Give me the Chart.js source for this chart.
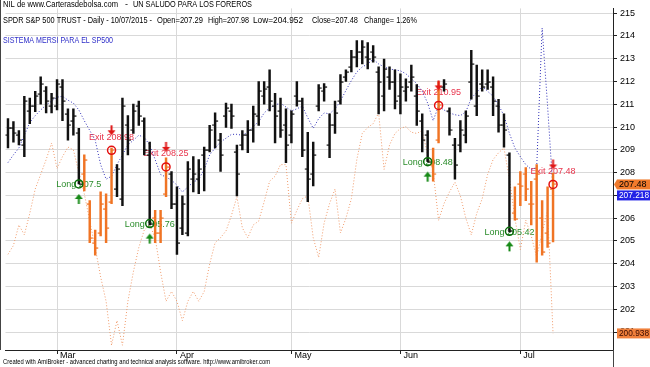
<!DOCTYPE html>
<html>
<head>
<meta charset="utf-8">
<script src="https://cdn.jsdelivr.net/npm/chart.js@4.4.0/dist/chart.umd.min.js"></script>
<style>
  html, body { margin: 0; padding: 0; background: #fff; }
  #wrap { width: 650px; height: 367px; position: relative; }
</style>
</head>
<body>
<div id="wrap"><canvas id="chart" width="650" height="367"></canvas></div>
<script>
// SPY daily bars, 17/02/2015 - 10/07/2015
const dates = [
  "2015-02-17","2015-02-18","2015-02-19","2015-02-20","2015-02-23","2015-02-24","2015-02-25","2015-02-26","2015-02-27",
  "2015-03-02","2015-03-03","2015-03-04","2015-03-05","2015-03-06","2015-03-09","2015-03-10","2015-03-11","2015-03-12","2015-03-13",
  "2015-03-16","2015-03-17","2015-03-18","2015-03-19","2015-03-20","2015-03-23","2015-03-24","2015-03-25","2015-03-26","2015-03-27",
  "2015-03-30","2015-03-31",
  "2015-04-01","2015-04-02","2015-04-06","2015-04-07","2015-04-08","2015-04-09","2015-04-10","2015-04-13","2015-04-14","2015-04-15",
  "2015-04-16","2015-04-17","2015-04-20","2015-04-21","2015-04-22","2015-04-23","2015-04-24","2015-04-27","2015-04-28","2015-04-29",
  "2015-04-30",
  "2015-05-01","2015-05-04","2015-05-05","2015-05-06","2015-05-07","2015-05-08","2015-05-11","2015-05-12","2015-05-13","2015-05-14",
  "2015-05-15","2015-05-18","2015-05-19","2015-05-20","2015-05-21","2015-05-22","2015-05-26","2015-05-27","2015-05-28","2015-05-29",
  "2015-06-01","2015-06-02","2015-06-03","2015-06-04","2015-06-05","2015-06-08","2015-06-09","2015-06-10","2015-06-11","2015-06-12",
  "2015-06-15","2015-06-16","2015-06-17","2015-06-18","2015-06-19","2015-06-22","2015-06-23","2015-06-24","2015-06-25","2015-06-26",
  "2015-06-29","2015-06-30",
  "2015-07-01","2015-07-02","2015-07-06","2015-07-07","2015-07-08","2015-07-09","2015-07-10"
];

const open = [
  209.64, 209.98, 209.64, 209.21, 210.71, 210.92, 211.44, 211.57, 210.92, 210.92,
  211.78, 210.58, 210.28, 209.72, 207.92, 206.64, 204.92, 205.35, 206.42, 206.72,
  207.28, 206.85, 210.07, 209.85, 210.92, 210.28, 208.78, 206.00, 205.35, 207.07,
  207.92, 206.64, 205.57, 205.35, 207.71, 207.71, 208.78, 209.00, 210.07, 209.42,
  210.50, 210.71, 208.91, 209.21, 209.64, 209.85, 210.50, 211.35, 211.78, 210.92,
  210.71, 210.07, 209.64, 211.35, 211.14, 208.14, 207.92, 210.92, 211.57, 209.21,
  210.07, 211.14, 212.21, 212.64, 213.07, 213.28, 213.07, 213.28, 212.42, 211.35,
  212.21, 212.00, 211.35, 211.57, 212.00, 211.35, 210.28, 209.64, 208.35, 209.42,
  211.78, 210.71, 209.21, 209.21, 209.64, 212.00, 210.92, 211.91, 211.87, 211.78,
  210.92, 210.07, 208.78, 206.21, 207.50, 207.92, 206.64, 207.71, 206.00, 205.35,
  207.29
];
const high = [
  210.37, 210.24, 209.85, 211.35, 211.27, 211.57, 212.21, 211.78, 211.48, 212.08,
  212.08, 210.80, 210.80, 209.94, 208.78, 206.77, 205.48, 207.15, 207.07, 209.08,
  208.35, 211.27, 210.50, 211.01, 211.14, 210.41, 209.34, 206.34, 206.34, 208.65,
  208.05, 207.37, 206.98, 208.48, 208.70, 208.57, 209.12, 210.07, 210.62, 209.72,
  211.05, 211.01, 209.21, 209.85, 210.28, 210.92, 212.00, 212.00, 212.51, 211.48,
  211.27, 210.80, 210.71, 212.00, 211.27, 209.77, 209.34, 211.87, 211.91, 210.58,
  211.14, 212.30, 212.51, 213.37, 213.80, 213.80, 213.71, 213.58, 212.64, 212.98,
  212.64, 212.51, 212.34, 212.12, 212.72, 211.87, 210.58, 209.85, 209.08, 212.00,
  212.08, 210.84, 209.51, 210.28, 210.71, 213.37, 212.72, 212.51, 212.51, 212.21,
  211.22, 210.58, 208.87, 207.37, 208.05, 208.22, 207.62, 208.35, 206.77, 207.37,
  207.98
];
const low = [
  209.08, 209.34, 209.21, 208.70, 210.15, 210.67, 211.01, 210.62, 210.62, 210.75,
  210.28, 209.42, 209.64, 207.50, 207.20, 204.92, 204.37, 205.22, 204.92, 206.64,
  206.94, 206.55, 208.78, 209.72, 210.07, 208.78, 205.70, 204.92, 204.92, 206.94,
  206.42, 204.41, 205.27, 205.22, 207.15, 207.07, 207.20, 208.91, 209.08, 208.05,
  209.98, 209.94, 206.98, 209.00, 208.87, 209.34, 210.07, 211.01, 210.71, 209.30,
  209.55, 208.44, 209.30, 210.92, 208.70, 206.72, 207.41, 210.71, 211.14, 208.65,
  209.72, 211.01, 212.00, 212.42, 212.64, 212.77, 212.55, 212.85, 210.58, 210.71,
  211.65, 210.80, 210.58, 211.14, 211.57, 210.07, 208.91, 208.48, 207.62, 209.30,
  211.57, 209.64, 207.71, 208.91, 209.30, 211.22, 210.50, 211.57, 211.65, 210.50,
  209.77, 209.12, 205.40, 205.91, 206.55, 206.77, 205.70, 204.07, 204.37, 204.71,
  204.952
];
const close = [
  209.98, 209.72, 209.42, 211.14, 210.92, 211.35, 211.87, 211.14, 211.27, 211.87,
  211.14, 210.07, 210.50, 207.50, 208.57, 205.14, 204.71, 206.64, 205.57, 208.98,
  208.14, 210.92, 209.42, 210.71, 210.50, 209.00, 205.76, 205.35, 206.00, 208.25,
  206.64, 204.92, 206.64, 208.14, 207.92, 208.14, 209.00, 209.85, 210.28, 208.78,
  210.84, 210.50, 207.92, 209.64, 209.85, 210.58, 211.57, 211.65, 211.14, 210.50,
  209.85, 209.21, 210.58, 211.14, 209.00, 207.71, 208.78, 211.70, 211.78, 210.07,
  210.62, 212.00, 212.42, 213.07, 213.28, 213.50, 212.98, 213.07, 212.00, 212.55,
  212.00, 211.14, 211.78, 211.78, 212.21, 210.71, 209.42, 208.48, 207.92, 210.95,
  211.87, 209.85, 208.35, 209.85, 210.50, 212.77, 211.35, 211.78, 212.00, 211.14,
  210.07, 209.85, 205.42, 205.95, 207.40, 207.30, 206.60, 207.95, 204.53, 204.90,
  207.48
];

// blue dotted average
const blueLine = [
  208.44, 208.78, 209.08, 209.64, 210.20, 210.50, 210.75, 210.97, 211.14, 211.31,
  211.35, 211.18, 211.05, 210.75, 210.28, 209.85, 209.42, 208.35, 207.71, 207.84,
  208.35, 208.78, 209.21, 209.42, 209.64, 209.55, 209.21, 208.57, 207.92, 207.80,
  207.67, 207.45, 207.15, 207.37, 207.58, 207.71, 208.14, 208.78, 209.08, 209.34,
  209.51, 209.68, 209.68, 209.64, 209.77, 210.02, 210.24, 210.62, 210.84, 210.97,
  211.05, 210.88, 210.71, 210.80, 210.92, 210.41, 209.94, 210.37, 210.62, 210.58,
  210.80, 211.14, 211.61, 212.04, 212.42, 212.64, 212.77, 212.98, 212.77, 212.64,
  212.55, 212.51, 212.47, 212.34, 212.12, 211.91, 211.57, 211.05, 210.28, 210.92,
  210.75, 210.62, 210.54, 210.50, 210.67, 211.27, 211.52, 211.78, 211.57, 211.35,
  210.97, 210.50, 209.72, 209.08, 208.70, 208.35, 208.14, 208.22, 214.35, 210.92,
  207.218
];
// orange dotted line
const orangeLine = [
  204.41, 204.80, 205.70, 205.27, 206.21, 207.28, 207.92, 208.57, 209.30, 208.18,
  208.70, 209.12, 209.00, 208.01, 207.07, 205.87, 204.71, 203.42, 202.35, 200.42,
  201.50, 200.42, 202.35, 203.64, 204.71, 205.48, 205.70, 205.14, 203.64, 202.35,
  202.78, 202.35, 201.50, 202.35, 202.78, 202.35, 202.78, 203.98, 204.92, 205.14,
  205.44, 206.12, 206.94, 205.57, 205.14, 205.70, 205.87, 206.72, 207.62, 207.84,
  208.35, 208.35, 205.78, 206.34, 206.85, 206.98, 205.14, 204.28, 205.78, 206.64,
  207.28, 205.35, 206.00, 206.85, 208.57, 209.72, 209.98, 210.15, 210.62, 208.14,
  209.21, 209.72, 209.94, 210.02, 209.77, 209.72, 209.85, 208.78, 208.05, 205.91,
  206.64, 207.15, 207.58, 206.98, 206.00, 205.27, 206.21, 206.85, 207.92, 208.57,
  208.87, 209.08, 207.71, 206.00, 204.62, 205.91, 205.22, 204.28, 205.36, 206.34,
  200.938
];

const longIdx = [13, 26, 77, 92];
const longPrice = [207.5, 205.76, 208.48, 205.42];
const exitIdx = [19, 29, 79, 100];
const exitPrice = [208.98, 208.25, 210.95, 207.48];

const yTicks = [201, 202, 203, 204, 205, 206, 207, 208, 209, 210, 211, 212, 213, 214, 215];
const monthNames = ["Jan", "Feb", "Mar", "Apr", "May", "Jun", "Jul", "Aug", "Sep", "Oct", "Nov", "Dec"];
const emptySlots = 11;

const FONT = "'Liberation Sans', Arial, sans-serif";
const BAR_BLACK = "#111111";
const BAR_ORANGE = "#f07424";

// first bar of each month gets a tick
const monthStarts = [];
dates.forEach((d, i) => {
  if (i > 0 && d.slice(5, 7) !== dates[i - 1].slice(5, 7)) monthStarts.push(i);
});

// bars that belong to an open trade
const inTrade = dates.map((d, i) => longIdx.some((l, k) => i > l && i <= exitIdx[k]));
const barColor = inTrade.map((t) => (t ? BAR_ORANGE : BAR_BLACK));

function tickImage(color, side) {
  const c = document.createElement("canvas");
  c.width = 8;
  c.height = 2;
  const g = c.getContext("2d");
  g.fillStyle = color;
  if (side < 0) g.fillRect(1, 0.5, 3, 1.2);
  else g.fillRect(4, 0.5, 3, 1.2);
  return c;
}

function arrowImage(color, up, offset) {
  const c = document.createElement("canvas");
  c.width = 9;
  c.height = 64;
  const g = c.getContext("2d");
  g.fillStyle = color;
  const cy = 32 + offset;
  g.beginPath();
  if (up) {
    g.moveTo(4.5, cy - 5);
    g.lineTo(8.5, cy);
    g.lineTo(0.5, cy);
    g.closePath();
    g.fill();
    g.fillRect(3.5, cy, 2, 5);
  } else {
    g.moveTo(4.5, cy + 5);
    g.lineTo(8.5, cy);
    g.lineTo(0.5, cy);
    g.closePath();
    g.fill();
    g.fillRect(3.5, cy - 5, 2, 5);
  }
  return c;
}

const openTicks = { black: tickImage(BAR_BLACK, -1), orange: tickImage(BAR_ORANGE, -1) };
const closeTicks = { black: tickImage(BAR_BLACK, 1), orange: tickImage(BAR_ORANGE, 1) };
const upArrow = arrowImage("#178a17", true, 15);
const downArrow = arrowImage("#e01818", false, -20);

// header, footer, trade labels and last-value boxes
const decorations = {
  id: "decorations",
  beforeDatasetsDraw(chart) {
    const { ctx, scales: { x, y } } = chart;
    ctx.save();
    ctx.font = "9px " + FONT;
    ctx.textAlign = "center";
    ctx.textBaseline = "middle";
    ctx.fillStyle = "#2a8c2a";
    longIdx.forEach((i, k) => {
      ctx.fillText("Long " + longPrice[k], x.getPixelForValue(i), y.getPixelForValue(longPrice[k]) + 1);
    });
    ctx.fillStyle = "#e8344c";
    exitIdx.forEach((i, k) => {
      ctx.fillText("Exit " + exitPrice[k], x.getPixelForValue(i), y.getPixelForValue(exitPrice[k]) - 13);
    });
    ctx.restore();
  },
  afterDraw(chart) {
    const { ctx, chartArea, scales: { y } } = chart;
    ctx.save();
    // frame bits
    ctx.fillStyle = "#444";
    ctx.fillRect(0, 0, 1, chartArea.bottom);
    ctx.fillRect(chartArea.right, chartArea.bottom, 1, 367 - chartArea.bottom);

    ctx.textBaseline = "middle";
    ctx.textAlign = "left";
    ctx.font = "9px " + FONT;
    ctx.fillStyle = "#000";
    const txt = (s, px, py, w) => ctx.fillText(s, px, py, w);
    txt("NIL de www.Carterasdebolsa.com", 3, 5, 115);
    txt("-", 125, 5, 4);
    txt("UN SALUDO PARA LOS FOREROS", 133, 5, 119);
    txt("SPDR S&P 500 TRUST - Daily - 10/07/2015 -", 3, 21, 149);
    txt("Open=207.29", 157, 21, 46);
    txt("High=207.98", 208, 21, 41);
    txt("Low=204.952", 253, 21, 50);
    txt("Close=207.48", 312, 21, 46);
    txt("Change= 1.26%", 364, 21, 53);
    ctx.fillStyle = "#2d2dc8";
    txt("SISTEMA MERSI PARA EL SP500", 3, 41, 110);
    ctx.fillStyle = "#000";
    ctx.font = "7px " + FONT;
    txt("Created with AmiBroker - advanced charting and technical analysis software. http://www.amibroker.com", 3, 362, 267);

    // last value boxes on the price axis
    const last = close.length - 1;
    const boxes = [
      { v: close[last], bg: "#f07a2c", fg: "#000", tab: true },
      { v: blueLine[last], bg: "#2222e6", fg: "#fff" },
      { v: orangeLine[last], bg: "#f0803c", fg: "#3a0a00" }
    ].map((b) => Object.assign(b, { py: y.getPixelForValue(b.v) }))
      .sort((a, b) => a.py - b.py);
    let prev = -100;
    ctx.font = "9px " + FONT;
    boxes.forEach((b) => {
      const top = Math.max(b.py - 5, prev + 1);
      prev = top + 10;
      const bx = chartArea.right + 4;
      ctx.fillStyle = b.bg;
      ctx.fillRect(bx, top, 650 - bx, 10);
      if (b.tab) {
        ctx.beginPath();
        ctx.moveTo(bx, top);
        ctx.lineTo(chartArea.right + 1, top + 5);
        ctx.lineTo(bx, top + 10);
        ctx.closePath();
        ctx.fill();
      }
      ctx.fillStyle = b.fg;
      ctx.fillText(String(b.v), bx + 2, top + 5.5, 650 - bx - 3);
    });
    ctx.restore();
  }
};

const xy = (arr) => arr.map((v, i) => ({ x: i, y: v }));

new Chart(document.getElementById("chart"), {
  type: "bar",
  data: {
    datasets: [
      {
        type: "scatter",
        data: exitIdx.map((i, k) => ({ x: i, y: exitPrice[k] })),
        pointStyle: "circle",
        pointRadius: 4,
        borderColor: "#e41010",
        borderWidth: 1.5,
        backgroundColor: "rgba(0,0,0,0)"
      },
      {
        type: "scatter",
        data: longIdx.map((i, k) => ({ x: i, y: longPrice[k] })),
        pointStyle: "circle",
        pointRadius: 4,
        borderColor: "#0b6e0b",
        borderWidth: 1.5,
        backgroundColor: "rgba(0,0,0,0)"
      },
      {
        type: "scatter",
        data: exitIdx.map((i, k) => ({ x: i, y: exitPrice[k] })),
        pointStyle: downArrow,
        pointRadius: 3
      },
      {
        type: "scatter",
        data: longIdx.map((i, k) => ({ x: i, y: longPrice[k] })),
        pointStyle: upArrow,
        pointRadius: 3
      },
      {
        type: "scatter",
        data: xy(open),
        pointStyle: (c) => (inTrade[c.dataIndex] ? openTicks.orange : openTicks.black),
        pointRadius: 2
      },
      {
        type: "scatter",
        data: xy(close),
        pointStyle: (c) => (inTrade[c.dataIndex] ? closeTicks.orange : closeTicks.black),
        pointRadius: 2
      },
      {
        type: "bar",
        data: dates.map((d, i) => ({ x: i, y: [low[i], high[i]] })),
        backgroundColor: barColor,
        borderWidth: 0,
        barThickness: 1.8
      },
      {
        type: "line",
        data: xy(blueLine),
        borderColor: "#3030b8",
        borderWidth: 1,
        borderDash: [1, 2],
        pointRadius: 0,
        tension: 0
      },
      {
        type: "line",
        data: xy(orangeLine),
        borderColor: "#f09a6a",
        borderWidth: 1,
        borderDash: [1, 2],
        pointRadius: 0,
        tension: 0
      }
    ]
  },
  options: {
    responsive: false,
    animation: false,
    devicePixelRatio: 1,
    layout: { padding: 0 },
    plugins: { legend: { display: false }, tooltip: { enabled: false } },
    scales: {
      x: {
        type: "linear",
        offset: false,
        min: -0.4545,
        max: dates.length - 1 + emptySlots,
        afterBuildTicks: (s) => { s.ticks = monthStarts.map((v) => ({ value: v })); },
        afterFit: (s) => { s.height = 17; },
        ticks: {
          align: "start",
          labelOffset: 3,
          padding: -4,
          font: { family: FONT, size: 9 },
          color: "#000",
          callback: (v) => monthNames[parseInt(dates[v].slice(5, 7), 10) - 1]
        },
        grid: { offset: false, color: "#d9d9d9", tickColor: "#222", tickLength: 4 },
        border: { color: "#222" }
      },
      y: {
        position: "right",
        min: 200.21,
        max: 215.21,
        afterBuildTicks: (s) => { s.ticks = yTicks.map((v) => ({ value: v })); },
        afterFit: (s) => { s.width = 37; },
        ticks: { font: { family: FONT, size: 9 }, color: "#000", padding: 3 },
        grid: { color: "#d9d9d9", tickColor: "#222", tickLength: 4 },
        border: { color: "#222" }
      }
    }
  },
  plugins: [decorations]
});
</script>
</body>
</html>
